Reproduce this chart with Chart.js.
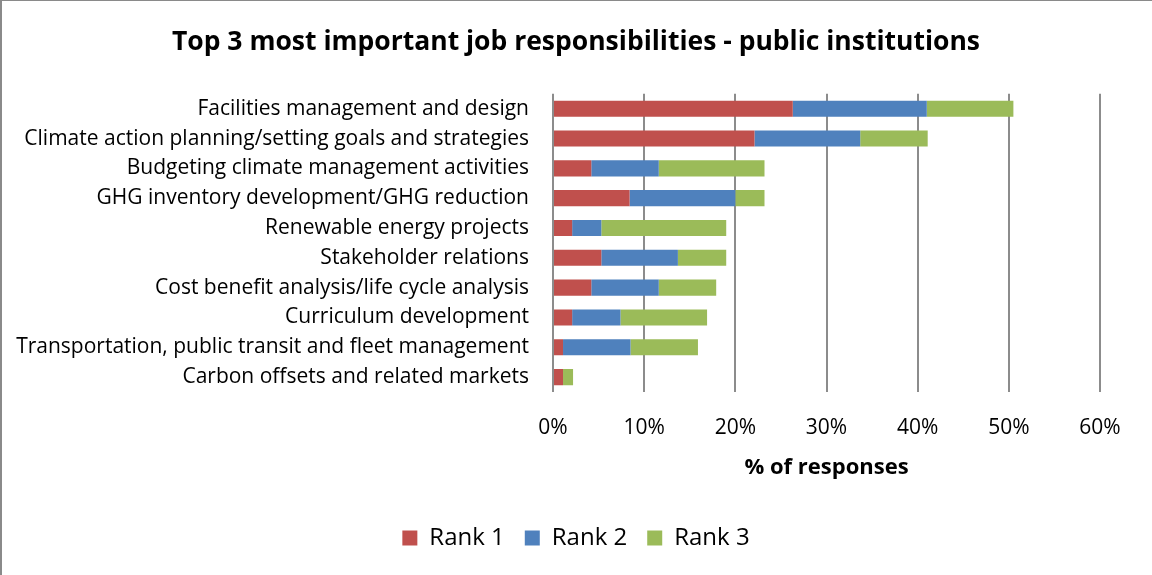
<!DOCTYPE html>
<html>
<head>
<meta charset="utf-8">
<title>Top 3 job responsibilities</title>
<script src="https://cdn.jsdelivr.net/npm/chart.js@4/dist/chart.umd.min.js"></script>
<style>
  html, body { margin: 0; padding: 0; background: #fff; }
  #wrap { width: 1152px; height: 575px; position: relative; }
</style>
</head>
<body>
<div id="wrap"><canvas id="respChart"></canvas></div>
<script>
// Responsibilities, top to bottom
const categories = [
    'Facilities management and design',
    'Climate action planning/setting goals and strategies',
    'Budgeting climate management activities',
    'GHG inventory development/GHG reduction',
    'Renewable energy projects',
    'Stakeholder relations',
    'Cost benefit analysis/life cycle analysis',
    'Curriculum development',
    'Transportation, public transit and fleet management',
    'Carbon offsets and related markets'
];

// % of responses per rank
const rank1 = [26.3, 22.1, 4.2, 8.4, 2.1, 5.3, 4.2, 2.1, 1.1, 1.1];
const rank2 = [14.7, 11.6, 7.4, 11.6, 3.2, 8.4, 7.4, 5.3, 7.4, 0];
const rank3 = [9.5, 7.4, 11.6, 3.2, 13.7, 5.3, 6.3, 9.5, 7.4, 1.1];

const xTicks = [0, 10, 20, 30, 40, 50, 60];

const FONT = '"Open Sans", Lato, sans-serif';

// Frame lines along the top and left edge
const framePlugin = {
    id: 'frame',
    afterDraw(chart) {
        const c = chart.ctx;
        c.save();
        c.fillStyle = '#8a8a8a';
        c.fillRect(0, 0, chart.width, 1);
        c.fillRect(0, 0, 2, chart.height);
        c.restore();
    }
};

const ctx = document.getElementById('respChart');

new Chart(ctx, {
    type: 'bar',
    data: {
        labels: categories,
        datasets: [
            { label: 'Rank 1', data: rank1, backgroundColor: '#C0504D' },
            { label: 'Rank 2', data: rank2, backgroundColor: '#4F81BD' },
            { label: 'Rank 3', data: rank3, backgroundColor: '#9BBB59' }
        ]
    },
    options: {
        indexAxis: 'y',
        responsive: true,
        maintainAspectRatio: false,
        animation: false,
        layout: {
            padding: { left: 0, right: 0, top: 0, bottom: 15 }
        },
        datasets: {
            bar: {
                categoryPercentage: 1,
                barPercentage: 0.54,
                borderWidth: 0
            }
        },
        plugins: {
            title: {
                display: true,
                text: 'Top 3 most important job responsibilities - public institutions',
                color: '#000',
                font: { family: FONT, size: 26.5, weight: 'bold' },
                padding: { top: 27, bottom: 35 }
            },
            legend: {
                position: 'bottom',
                labels: {
                    color: '#000',
                    font: { family: FONT, size: 24 },
                    boxWidth: 15,
                    boxHeight: 15,
                    padding: 20
                }
            },
            tooltip: { enabled: false }
        },
        scales: {
            x: {
                stacked: true,
                min: 0,
                max: 60,
                afterBuildTicks: function(scale) {
                    scale.ticks = xTicks.map(v => ({ value: v }));
                },
                afterFit: function(scale) {
                    scale.height = 114;
                },
                grid: {
                    color: '#8c8c8c',
                    lineWidth: 2,
                    drawTicks: false
                },
                border: { display: false },
                ticks: {
                    color: '#000',
                    padding: 23,
                    font: { family: FONT, size: 21 },
                    callback: function(value) {
                        return value + '%';
                    }
                },
                title: {
                    display: true,
                    text: '% of responses',
                    color: '#000',
                    padding: { top: 4, bottom: 25 },
                    font: { family: FONT, size: 22, weight: 'bold' }
                }
            },
            y: {
                stacked: true,
                afterFit: function(scale) {
                    scale.width = 553;
                },
                grid: { display: false, drawTicks: false },
                border: { display: false },
                ticks: {
                    color: '#000',
                    padding: 24,
                    font: { family: FONT, size: 21 }
                }
            },
            // empty strip on the right so the plot stops at 60%
            yRight: {
                type: 'category',
                position: 'right',
                afterFit: function(scale) {
                    scale.width = 52;
                },
                grid: { display: false, drawTicks: false },
                border: { display: false },
                ticks: { display: false }
            }
        }
    },
    plugins: [framePlugin]
});
</script>
</body>
</html>
